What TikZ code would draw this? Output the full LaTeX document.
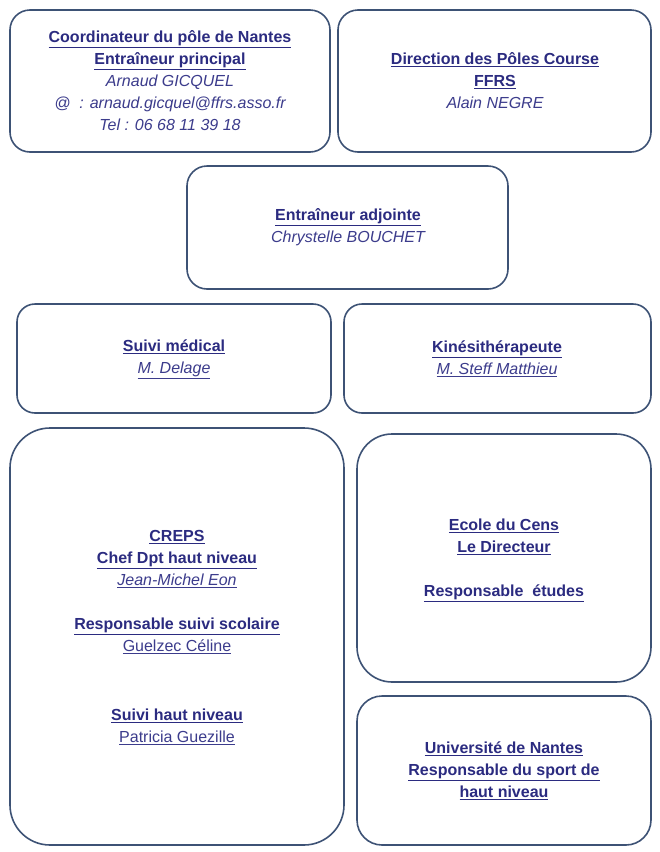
\documentclass[tikz,border=0pt]{standalone}
\usepackage{fontspec}
\setmainfont{Liberation Sans}
\definecolor{bord}{HTML}{3D5275}
\definecolor{tb}{HTML}{2B2B80}
\definecolor{ti}{HTML}{3C3C8C}
\newcommand{\ub}[1]{\underline{\textbf{#1}}}
\begin{document}
\begin{tikzpicture}[x=1pt,y=-1pt,
  box/.style={draw=bord,line width=1.6pt,fill=white},
  txt/.style={align=center,text=tb,font=\fontsize{16}{22}\selectfont,inner sep=0pt}]
\useasboundingbox (0,0) rectangle (660,852);
\draw[box,rounded corners=20] (10,10) rectangle (330,152);
\draw[box,rounded corners=20] (338,10) rectangle (651,152);
\draw[box,rounded corners=20] (187,166) rectangle (508,289);
\draw[box,rounded corners=18] (17,304) rectangle (331,413);
\draw[box,rounded corners=18] (344,304) rectangle (651,413);
\draw[box,rounded corners=40] (10,428) rectangle (344,845);
\draw[box,rounded corners=35] (357,434) rectangle (651,682);
\draw[box,rounded corners=25] (357,696) rectangle (651,845);
\node[txt] (t1) at (170,81) {\ub{Coordinateur du pôle de Nantes}\\\ub{Entraîneur principal}\\\color{ti}\itshape Arnaud GICQUEL\\\color{ti}\itshape @\ \ : arnaud.gicquel@ffrs.asso.fr\\\color{ti}\itshape Tel : 06 68 11 39 18};
\node[txt] (t2) at (495,81) {\ub{Direction des Pôles Course}\\\ub{FFRS}\\\color{ti}\itshape Alain NEGRE};
\node[txt] (t3) at (348,227) {\ub{Entraîneur adjointe}\\\color{ti}\itshape Chrystelle BOUCHET};
\node[txt] (t4) at (174,359) {\ub{Suivi médical}\\\color{ti}\itshape\underline{M. Delage}};
\node[txt] (t5) at (497,359) {\ub{Kinésithérapeute}\\\color{ti}\itshape\underline{M. Steff Matthieu}};
\node[txt] (t6a) at (177,559) {\ub{CREPS}\\\ub{Chef Dpt haut niveau}\\\color{ti}\itshape\underline{Jean-Michel Eon}};
\node[txt] (t6b) at (177,636) {\ub{Responsable suivi scolaire}\\\color{ti}\underline{Guelzec Céline}};
\node[txt] (t6c) at (177,727) {\ub{Suivi haut niveau}\\\color{ti}\underline{Patricia Guezille}};
\node[txt] (t7a) at (504,537) {\ub{Ecole du Cens}\\\ub{Le Directeur}};
\node[txt] (t7b) at (504,593) {\ub{Responsable\ \ études}};
\node[txt] (t8) at (504,771) {\ub{Université de Nantes}\\\ub{Responsable du sport de}\\\ub{haut niveau}};
\end{tikzpicture}
\end{document}
